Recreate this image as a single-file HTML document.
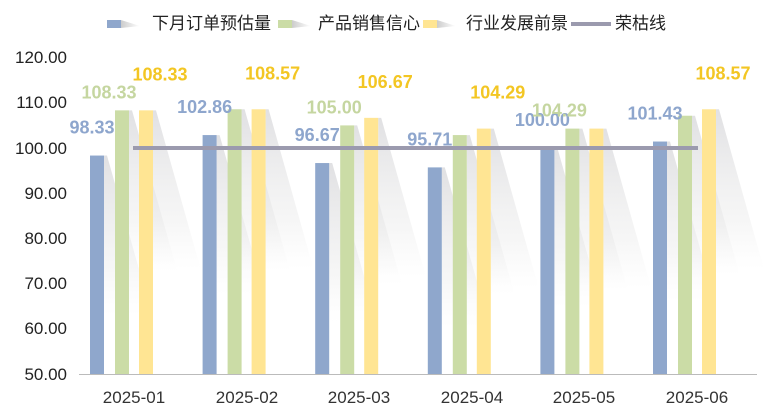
<!DOCTYPE html>
<html><head><meta charset="utf-8"><style>
html,body{margin:0;padding:0;background:#fff;}
svg{display:block;font-family:"Liberation Sans","Noto Sans CJK SC",sans-serif;}
</style></head><body>
<svg width="768" height="418" viewBox="0 0 768 418" xmlns="http://www.w3.org/2000/svg">
<defs>
<linearGradient id="sh" x1="0" y1="0" x2="0" y2="1">
<stop offset="0" stop-color="#c8c8cc" stop-opacity="0.55"/>
<stop offset="0.7" stop-color="#dcdcdc" stop-opacity="0.25"/>
<stop offset="1" stop-color="#e8e8e8" stop-opacity="0"/>
</linearGradient>
<linearGradient id="lg" x1="0" y1="0" x2="1" y2="0">
<stop offset="0" stop-color="#ccc"/><stop offset="1" stop-color="#fff"/>
</linearGradient>
</defs>
<!-- legend -->
<rect x="107" y="20" width="14" height="8" fill="#8fa7cc"/><polygon points="121,20 140,26 121,28" fill="url(#lg)"/>
<text x="152" y="29" font-size="17" fill="#222">下月订单预估量</text>
<rect x="278" y="20" width="14" height="8" fill="#cbdca6"/><polygon points="292,20 311,26 292,28" fill="url(#lg)"/>
<text x="318" y="29" font-size="17" fill="#222">产品销售信心</text>
<rect x="423" y="20" width="14" height="8" fill="#ffe593"/><polygon points="437,20 456,26 437,28" fill="url(#lg)"/>
<text x="466" y="29" font-size="17" fill="#222">行业发展前景</text>
<line x1="571" y1="24" x2="611" y2="24" stroke="#9b9aae" stroke-width="4"/>
<text x="615" y="29" font-size="17" fill="#222">荣枯线</text>
<!-- y axis -->
<g font-size="17" fill="#222" text-anchor="end">
<text x="67" y="63">120.00</text><text x="67" y="108">110.00</text><text x="67" y="154">100.00</text>
<text x="67" y="199">90.00</text><text x="67" y="244">80.00</text><text x="67" y="289">70.00</text>
<text x="67" y="334">60.00</text><text x="67" y="380">50.00</text>
</g>
<line x1="79" y1="374.5" x2="757" y2="374.5" stroke="#bbb" stroke-width="1"/>
<g font-size="17" fill="#333" text-anchor="middle">
<text x="134" y="403">2025-01</text><text x="247" y="403">2025-02</text><text x="359" y="403">2025-03</text>
<text x="472" y="403">2025-04</text><text x="584" y="403">2025-05</text><text x="697" y="403">2025-06</text>
</g>
<g id="bars"></g>
<line x1="133" y1="148" x2="698" y2="148" stroke="#9b9aae" stroke-width="4"/>
<g id="labels" font-size="18" font-weight="bold" text-anchor="middle"></g>
<script>
var B=[98.33,102.86,96.67,95.71,100.00,101.43],G=[108.33,108.57,105.00,102.86,104.29,107.14],Y=[108.33,108.57,106.67,104.29,104.29,108.57];
function y(v){return 148-(v-100)*4.52;}
var ns="http://www.w3.org/2000/svg",bars=document.getElementById("bars"),lab=document.getElementById("labels");
function el(p,t,a){var e=document.createElementNS(ns,t);for(var k in a)e.setAttribute(k,a[k]);p.appendChild(e);return e;}
var sh=[],rects=[];
for(var i=0;i<6;i++){
 var x0=90+112.6*i;
 [[B[i],0,"#8fa7cc"],[G[i],25,"#cbdca6"],[Y[i],49,"#ffe593"]].forEach(function(s){
  var x=x0+s[1],t=y(s[0]);
  sh.push([x+14,t]);rects.push([x,t,s[2]]);
 });
 var lb=[[B[i],x0+2,"#8ea6cd"],[G[i],x0+19,"#c5d6a0"],[Y[i],x0+70,"#f3c623"]];
 var show=[[1,1,1],[1,0,1],[1,1,1],[1,0,1],[1,1,0],[1,0,1]][i];
 var off=[22,12,30];
 lb.forEach(function(l,j){if(!show[j])return;var tt=el(lab,"text",{x:l[1],y:y(l[0])-off[j],fill:l[2]});tt.textContent=l[0].toFixed(2);});
}
sh.forEach(function(s){var x=s[0],t=s[1],b=t+160;el(bars,"polygon",{points:x+","+t+" "+(x+3)+","+t+" "+(x+48)+","+b+" "+x+","+b,fill:"url(#sh)"});});
rects.forEach(function(r){el(bars,"rect",{x:r[0],y:r[1],width:14,height:374-r[1],fill:r[2]});});
</script>
</svg>
</body></html>
